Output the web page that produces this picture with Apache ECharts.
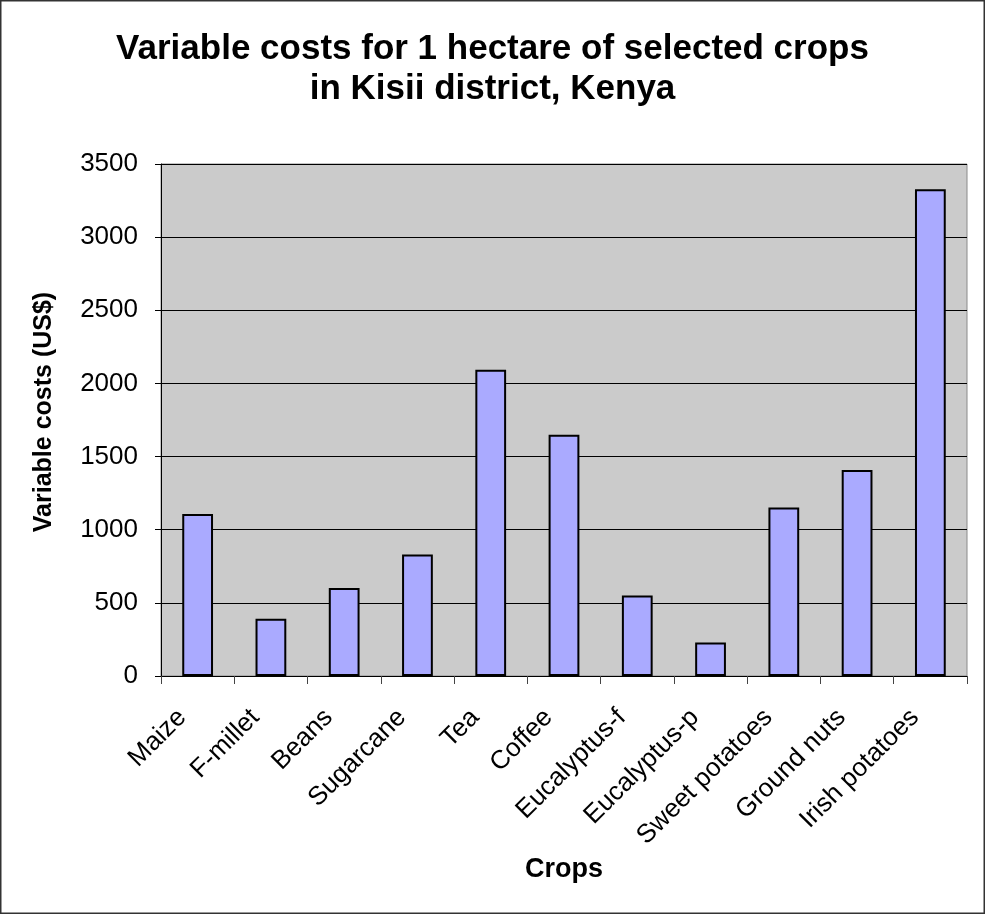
<!DOCTYPE html>
<html>
<head>
<meta charset="utf-8">
<style>
  html, body { margin: 0; padding: 0; background: #fff; }
  #chart { width: 985px; height: 914px; }
</style>
<script src="https://cdn.jsdelivr.net/npm/echarts@6/dist/echarts.min.js"></script>
</head>
<body>
<div id="chart"></div>
<script>
const categories = ['Maize', 'F-millet', 'Beans', 'Sugarcane', 'Tea', 'Coffee', 'Eucalyptus-f', 'Eucalyptus-p', 'Sweet potatoes', 'Ground nuts', 'Irish potatoes'];
const costs = [1108, 391, 601, 830, 2093, 1650, 551, 229, 1152, 1409, 3328];
const yTicks = [0, 500, 1000, 1500, 2000, 2500, 3000, 3500];

const FONT = 'Liberation Sans, Arial, Helvetica, sans-serif';
const chart = echarts.init(document.getElementById('chart'), null, { renderer: 'canvas' });

chart.setOption({
  backgroundColor: '#ffffff',
  animation: false,
  textStyle: { fontFamily: FONT },
  title: {
    text: 'Variable costs for 1 hectare of selected crops\nin Kisii district, Kenya',
    left: 'center',
    top: 24,
    textStyle: { fontFamily: FONT, fontSize: 35, fontWeight: 'bold', color: '#000', lineHeight: 40 }
  },
  graphic: [{
    type: 'rect',
    shape: { x: 0.75, y: 0.75, width: 983.5, height: 912.5 },
    style: { fill: 'none', stroke: '#333', lineWidth: 1.5 },
    silent: true
  }],
  grid: {
    left: 161, right: 18, top: 164, bottom: 238,
    show: true, backgroundColor: '#CBCBCB', borderColor: '#8a8a8a', borderWidth: 1
  },
  xAxis: {
    type: 'category',
    data: categories,
    name: 'Crops',
    nameLocation: 'middle',
    nameGap: 178,
    nameTextStyle: { fontFamily: FONT, fontSize: 27, fontWeight: 'bold', color: '#000' },
    axisLine: { lineStyle: { color: '#000', width: 1 } },
    axisTick: { show: true, length: 8, lineStyle: { color: '#444' } },
    axisLabel: { rotate: 45, fontSize: 26, color: '#000', margin: 22, padding: [0, 22, 0, 0], interval: 0, fontFamily: FONT }
  },
  yAxis: {
    type: 'value',
    min: yTicks[0],
    max: yTicks[yTicks.length - 1],
    interval: 500,
    name: 'Variable costs (US$)',
    nameLocation: 'middle',
    nameGap: 104,
    nameTextStyle: { fontFamily: FONT, fontSize: 25, fontWeight: 'bold', color: '#000', padding: [0, 0, 0, 16] },
    axisLine: { show: true, lineStyle: { color: '#000', width: 1 } },
    axisTick: { show: true, length: 6, lineStyle: { color: '#000' } },
    axisLabel: { fontSize: 26, color: '#000', margin: 23, fontFamily: FONT, formatter: function (v) { return String(v); } },
    splitLine: { show: true, lineStyle: { color: '#000', width: 1 } }
  },
  series: [{
    type: 'bar',
    data: costs,
    barWidth: '42%',
    itemStyle: { color: '#AAAAFF', borderColor: '#000', borderWidth: 2 }
  }]
});
</script>
</body>
</html>
